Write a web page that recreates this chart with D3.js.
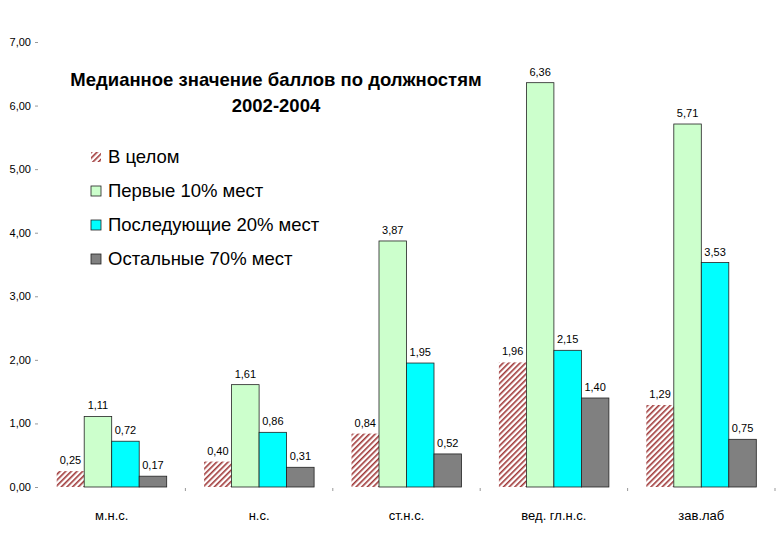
<!DOCTYPE html>
<html>
<head>
<meta charset="utf-8">
<script src="https://cdn.jsdelivr.net/npm/d3@7"></script>
<style>
  body { margin: 0; background: #fff; }
  text { font-family: "Liberation Sans", Arial, sans-serif; }
</style>
</head>
<body>
<svg id="chart" width="780" height="540"></svg>
<script>
// categories and series
const categories = ['м.н.с.', 'н.с.', 'ст.н.с.', 'вед. гл.н.с.', 'зав.лаб'];
const seriesNames = ['В целом', 'Первые 10% мест', 'Последующие 20% мест', 'Остальные 70% мест'];
const overall = [0.25, 0.40, 0.84, 1.96, 1.29];
const top10 = [1.11, 1.61, 3.87, 6.36, 5.71];
const next20 = [0.72, 0.86, 1.95, 2.15, 3.53];
const rest70 = [0.17, 0.31, 0.52, 1.40, 0.75];
const yTicks = [0, 1, 2, 3, 4, 5, 6, 7];

const seriesValues = [overall, top10, next20, rest70];
const fills = ['url(#hatch)', '#ccffcc', '#00ffff', '#808080'];

const svg = d3.select('#chart');
const margin = { left: 38, right: 5, top: 42, bottom: 53 };
const W = 780, H = 540;

// hatch pattern for "В целом"
const defs = svg.append('defs');
const pat = defs.append('pattern')
  .attr('id', 'hatch')
  .attr('patternUnits', 'userSpaceOnUse')
  .attr('width', 4).attr('height', 4)
  .attr('patternTransform', 'rotate(45)');
pat.append('rect').attr('width', 4).attr('height', 4).attr('fill', '#fff');
pat.append('rect').attr('width', 1.6).attr('height', 4).attr('fill', '#a03838');

const x0 = d3.scaleBand().domain(categories).range([margin.left, W - margin.right]).paddingInner(0).paddingOuter(0);
const x1 = d3.scaleBand().domain(d3.range(4)).range([0, x0.bandwidth()]).paddingInner(0).paddingOuter(0.68);
const y = d3.scaleLinear().domain([0, 7]).range([H - margin.bottom, margin.top]);

// y axis (labels + small ticks, no line)
const yAxis = d3.axisLeft(y).tickValues(yTicks).tickSize(3).tickPadding(4)
  .tickFormat(d => d3.format('.2f')(d).replace('.', ','));
const yG = svg.append('g').attr('transform', `translate(${margin.left},0)`).call(yAxis);
yG.select('.domain').remove();
yG.selectAll('line').attr('stroke', '#999');
yG.selectAll('text').attr('font-size', 11).attr('fill', '#000')
  .style('font-family', '"Liberation Sans", Arial, sans-serif');

// x axis ticks between categories
const xG = svg.append('g');
categories.forEach((c, i) => {
  xG.append('line')
    .attr('x1', x0(c) + x0.bandwidth()).attr('x2', x0(c) + x0.bandwidth())
    .attr('y1', y(0) + 1).attr('y2', y(0) + 4)
    .attr('stroke', '#999');
  xG.append('text')
    .attr('x', x0(c) + x0.bandwidth() / 2)
    .attr('y', y(0) + 33)
    .attr('text-anchor', 'middle')
    .attr('font-size', 13)
    .text(c);
});

// bars
const groups = svg.append('g').selectAll('g')
  .data(categories)
  .join('g')
  .attr('transform', c => `translate(${x0(c)},0)`);

groups.each(function (c, ci) {
  const g = d3.select(this);
  seriesValues.forEach((vals, si) => {
    const v = vals[ci];
    g.append('rect')
      .attr('x', x1(si))
      .attr('width', x1.bandwidth())
      .attr('y', y(v))
      .attr('height', y(0) - y(v))
      .attr('fill', fills[si])
      .attr('stroke', si === 0 ? 'none' : '#222')
      .attr('stroke-width', 0.8);
    g.append('text')
      .attr('x', x1(si) + x1.bandwidth() / 2)
      .attr('y', y(v) - 7)
      .attr('text-anchor', 'middle')
      .attr('font-size', 11)
      .text(d3.format('.2f')(v).replace('.', ','));
  });
});

// title
svg.append('text')
  .attr('x', 276).attr('y', 86)
  .attr('text-anchor', 'middle')
  .attr('font-size', 18.5).attr('font-weight', 'bold')
  .text('Медианное значение баллов по должностям');
svg.append('text')
  .attr('x', 276).attr('y', 112)
  .attr('text-anchor', 'middle')
  .attr('font-size', 18.5).attr('font-weight', 'bold')
  .text('2002-2004');

// legend
const legend = svg.append('g').selectAll('g')
  .data(seriesNames)
  .join('g')
  .attr('transform', (d, i) => `translate(91,${157 + i * 34})`);
legend.append('rect')
  .attr('x', 0).attr('y', -5).attr('width', 10).attr('height', 10)
  .attr('fill', (d, i) => fills[i])
  .attr('stroke', (d, i) => i === 0 ? 'none' : '#222')
  .attr('stroke-width', 0.8);
legend.append('text')
  .attr('x', 17).attr('y', 6)
  .attr('font-size', 18.5)
  .text(d => d);
</script>
</body>
</html>
